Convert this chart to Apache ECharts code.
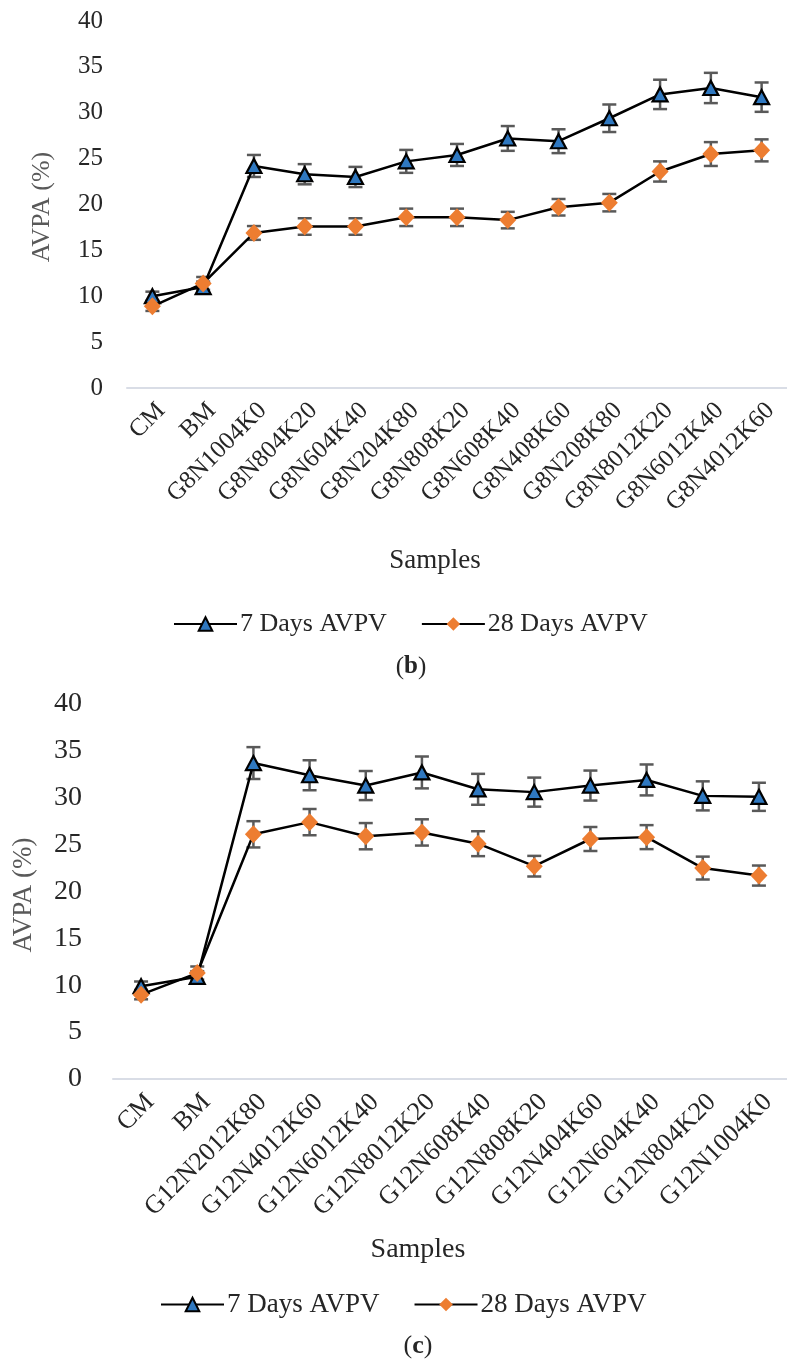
<!DOCTYPE html>
<html>
<head>
<meta charset="utf-8">
<script src="https://cdn.jsdelivr.net/npm/echarts@6/dist/echarts.min.js"></script>
<style>
  html, body { margin: 0; padding: 0; background: #ffffff; }
  #chart { width: 787px; height: 1364px; }
</style>
</head>
<body>
<div id="chart"></div>
<script>
// Panel (b): G8 mixes
const categoriesB = ['CM', 'BM', 'G8N1004K0', 'G8N804K20', 'G8N604K40', 'G8N204K80', 'G8N808K20',
  'G8N608K40', 'G8N408K60', 'G8N208K80', 'G8N8012K20', 'G8N6012K40', 'G8N4012K60'];
const avpv7B = [10.0, 11.0, 24.2, 23.3, 23.0, 24.7, 25.4, 27.2, 26.9, 29.4, 32.0, 32.7, 31.7];
const err7B = [0.5, 0.6, 1.2, 1.1, 1.1, 1.25, 1.2, 1.35, 1.3, 1.5, 1.6, 1.65, 1.6];
const avpv28B = [8.9, 11.4, 16.9, 17.6, 17.6, 18.6, 18.6, 18.3, 19.7, 20.2, 23.6, 25.5, 25.9];
const err28B = [0.5, 0.7, 0.75, 0.9, 0.9, 0.95, 0.95, 0.9, 0.9, 0.95, 1.1, 1.3, 1.2];

// Panel (c): G12 mixes
const categoriesC = ['CM', 'BM', 'G12N2012K80', 'G12N4012K60', 'G12N6012K40', 'G12N8012K20',
  'G12N608K40', 'G12N808K20', 'G12N404K60', 'G12N604K40', 'G12N804K20', 'G12N1004K0'];
const avpv7C = [9.9, 10.9, 33.7, 32.4, 31.3, 32.7, 30.9, 30.6, 31.3, 31.9, 30.2, 30.1];
const err7C = [0.5, 0.6, 1.7, 1.6, 1.55, 1.7, 1.65, 1.55, 1.6, 1.65, 1.55, 1.5];
const avpv28C = [9.0, 11.3, 26.1, 27.4, 25.9, 26.3, 25.1, 22.7, 25.6, 25.8, 22.5, 21.7];
const err28C = [0.5, 0.7, 1.4, 1.4, 1.4, 1.4, 1.33, 1.1, 1.28, 1.28, 1.22, 1.07];

const yTicks = { min: 0, max: 40, interval: 5 };
const seriesNames = ['7 Days AVPV', '28 Days AVPV'];

const FONT = '"Liberation Serif", "Times New Roman", serif';
const TEXT = '#262626';
const BAR = '#595959';

function errorRows(vals, errs) {
  return vals.map((v, i) => [i, v, errs[i]]);
}

// Vertical error bar with caps, positioned through the axis scales
function renderErrorBar(params, api) {
  const i = api.value(0), v = api.value(1), e = api.value(2);
  const top = api.coord([i, v + e]);
  const bot = api.coord([i, v - e]);
  const hw = 7;
  const style = { stroke: BAR, lineWidth: 2.5 };
  return {
    type: 'group',
    children: [
      { type: 'line', shape: { x1: top[0], y1: top[1], x2: bot[0], y2: bot[1] }, style },
      { type: 'line', shape: { x1: top[0] - hw, y1: top[1], x2: top[0] + hw, y2: top[1] }, style },
      { type: 'line', shape: { x1: bot[0] - hw, y1: bot[1], x2: bot[0] + hw, y2: bot[1] }, style }
    ]
  };
}

function errSeries(idx, vals, errs) {
  return {
    type: 'custom', xAxisIndex: idx, yAxisIndex: idx, z: 1, silent: true,
    renderItem: renderErrorBar, encode: { x: 0, y: 1 },
    data: errorRows(vals, errs)
  };
}

function lineSeries(idx, which, vals) {
  const tri = which === 0;
  return {
    name: seriesNames[which], type: 'line', xAxisIndex: idx, yAxisIndex: idx, z: 3 + which,
    data: vals,
    symbol: tri ? 'triangle' : 'diamond',
    symbolSize: tri ? [15, 14] : [17, 18],
    showAllSymbol: true,
    lineStyle: { color: '#000000', width: 2.5 },
    itemStyle: tri ? { color: '#2f78c0', borderColor: '#000000', borderWidth: 2.2 }
                   : { color: '#ED7D31', borderWidth: 0 }
  };
}

function xAxis(idx, cats, size, margin) {
  return {
    type: 'category', gridIndex: idx, data: cats, boundaryGap: true,
    axisLine: { show: true, lineStyle: { color: '#d9dde6', width: 2 } },
    axisTick: { show: false },
    axisLabel: {
      interval: 0, rotate: 45, margin, verticalAlign: 'top',
      fontFamily: FONT, fontSize: size, color: TEXT
    }
  };
}

function yAxis(idx, size, margin) {
  return {
    type: 'value', gridIndex: idx, min: yTicks.min, max: yTicks.max, interval: yTicks.interval,
    axisLine: { show: false }, axisTick: { show: false }, splitLine: { show: false },
    axisLabel: { margin, fontFamily: FONT, fontSize: size, color: TEXT }
  };
}

function legendAt(left, top, size) {
  return {
    data: seriesNames, left, top, orient: 'horizontal',
    itemWidth: 63, itemHeight: 17, itemGap: 34,
    textStyle: { fontFamily: FONT, fontSize: size, color: TEXT, padding: [0, 0, 0, -2] },
    selectedMode: false
  };
}

function label(text, x, y, size, color, rotation) {
  return {
    type: 'text', x, y, rotation: rotation || 0,
    style: { text, fontFamily: FONT, fontSize: size, fill: color, align: 'center', verticalAlign: 'middle' }
  };
}

const chart = echarts.init(document.getElementById('chart'), null, { renderer: 'canvas' });

chart.setOption({
  backgroundColor: '#ffffff',
  animation: false,
  grid: [
    { left: 127, top: 21, width: 666, height: 367 },
    { left: 113, top: 704, width: 692, height: 375 }
  ],
  xAxis: [xAxis(0, categoriesB, 25, 10), xAxis(1, categoriesC, 26, 10)],
  yAxis: [yAxis(0, 25, 24), yAxis(1, 28, 31)],
  legend: [legendAt(168, 606, 26), legendAt(155, 1286, 27)],
  series: [
    errSeries(0, avpv7B, err7B),
    errSeries(0, avpv28B, err28B),
    lineSeries(0, 0, avpv7B),
    lineSeries(0, 1, avpv28B),
    errSeries(1, avpv7C, err7C),
    errSeries(1, avpv28C, err28C),
    lineSeries(1, 0, avpv7C),
    lineSeries(1, 1, avpv28C)
  ],
  graphic: [
    label('AVPA (%)', 42, 207, 26, BAR, Math.PI / 2),
    label('Samples', 435, 561, 27, TEXT),
    {
      type: 'text', x: 411, y: 667,
      style: {
        text: '({b|b})', fontFamily: FONT, fontSize: 25, fill: TEXT, align: 'center', verticalAlign: 'middle',
        rich: { b: { fontFamily: FONT, fontSize: 25, fontWeight: 'bold', color: TEXT } }
      }
    },
    label('AVPA (%)', 24, 895, 27, BAR, Math.PI / 2),
    label('Samples', 418, 1250, 28, TEXT),
    {
      type: 'text', x: 418, y: 1346,
      style: {
        text: '({b|c})', fontFamily: FONT, fontSize: 26, fill: TEXT, align: 'center', verticalAlign: 'middle',
        rich: { b: { fontFamily: FONT, fontSize: 26, fontWeight: 'bold', color: TEXT } }
      }
    }
  ]
});
</script>
</body>
</html>
